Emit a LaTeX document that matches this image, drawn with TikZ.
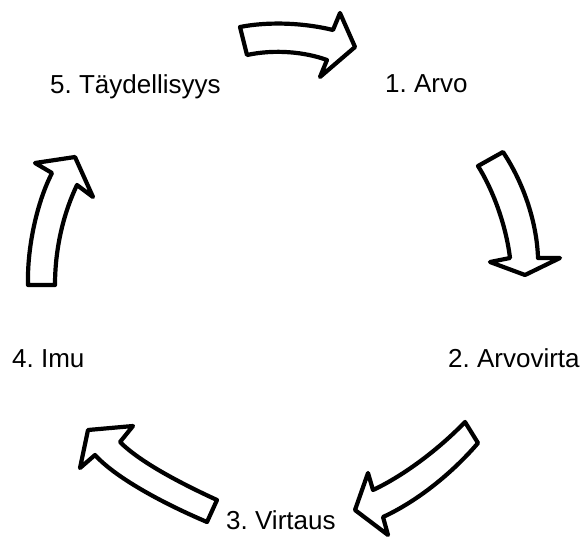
\documentclass[tikz,border=0pt]{standalone}
\usepackage{fontspec}
\setmainfont{Liberation Sans}
\frenchspacing
\begin{document}
\begin{tikzpicture}[x=1pt,y=-1pt,
  cyclearrow/.style={draw=black,fill=white,line width=4.2pt,line join=round},
  stage/.style={anchor=base west,inner sep=0pt,font=\fontsize{26}{31}\selectfont}]
\useasboundingbox (0,0) rectangle (584,538);
% top arrow
\path[cyclearrow] (240,27) .. controls (265,22) and (300,22) .. (333,30)
  -- (340,13) -- (355,47) -- (320,77) -- (327,60)
  .. controls (305,52) and (275,49) .. (247,55) -- cycle;
% right arrow
\path[cyclearrow] (478,166) .. controls (493,190) and (506,225) .. (510,258)
  -- (490,262) -- (525,275) -- (560,258) -- (538,258)
  .. controls (537,225) and (525,185) .. (503,152) -- cycle;
% bottom right arrow
\path[cyclearrow] (465,422) .. controls (440,448) and (405,475) .. (373,490)
  -- (368,473) -- (355,510) -- (388,535) -- (383,517)
  .. controls (420,500) and (455,470) .. (478,443) -- cycle;
% bottom left arrow
\path[cyclearrow] (217,500) .. controls (180,483) and (140,462) .. (120,442)
  -- (133,426) -- (88,430) -- (80,468) -- (95,455)
  .. controls (115,477) and (160,502) .. (207,522) -- cycle;
% left arrow
\path[cyclearrow] (28,285) .. controls (27,245) and (38,200) .. (52,173)
  -- (35,163) -- (75,157) -- (93,197) -- (77,185)
  .. controls (65,210) and (55,245) .. (55,285) -- cycle;
% stage labels
\node[stage] (s1) at (385,92) {1. Arvo};
\node[stage] (s2) at (448,367) {2. Arvovirta};
\node[stage] (s3) at (226,529) {3. Virtaus};
\node[stage] (s4) at (12,367) {4. Imu};
\node[stage] (s5) at (50,93) {5. Täydellisyys};
\end{tikzpicture}
\end{document}
